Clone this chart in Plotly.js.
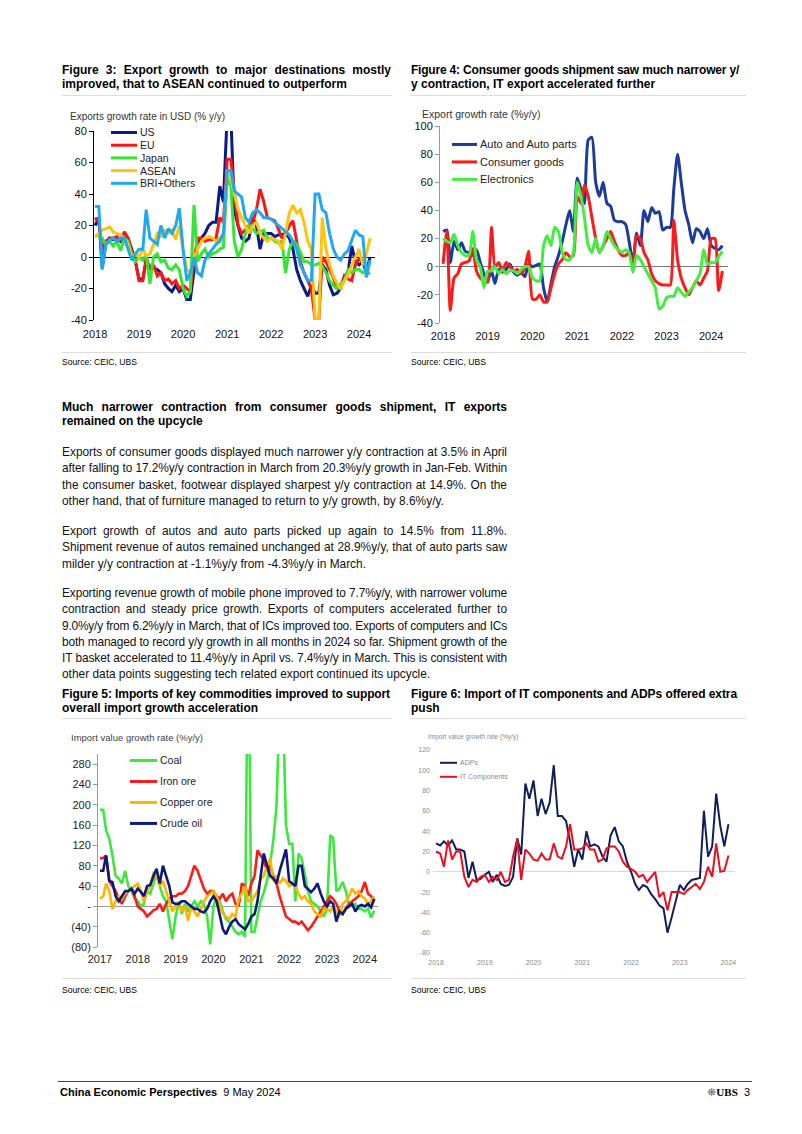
<!DOCTYPE html>
<html><head><meta charset="utf-8">
<script src="https://cdn.plot.ly/plotly-3.0.1.min.js"></script>
<style>
html,body{margin:0;padding:0;background:#fff}
body{width:802px;height:1134px;position:relative;overflow:hidden;font-family:'Liberation Sans',Arial,sans-serif;color:#000}
.a{position:absolute}
.ttl{font-weight:bold;font-size:12px;line-height:14px}
.bd{font-size:11.9px;line-height:16.3px;color:#111}
.jl{white-space:nowrap;text-align:justify;text-align-last:justify}
.ll{white-space:nowrap}
.src{font-size:8.6px;line-height:12px}
.sep{height:0;border-top:1px solid #dcdcdc}
.plot{position:absolute}
</style></head><body>

<div class="a ttl" style="left:62px;top:63px;width:329px"><div class="jl">Figure 3: Export growth to major destinations mostly</div><div class="ll">improved, that to ASEAN continued to outperform</div></div>
<div class="a ttl" style="left:411px;top:63px;width:328px"><div class="jl">Figure 4: Consumer goods shipment saw much narrower y/</div><div class="ll">y contraction, IT export accelerated further</div></div>
<div class="a sep" style="left:62px;top:95px;width:330px"></div>
<div class="a sep" style="left:411px;top:95px;width:335px"></div>

<div id="c1" class="plot"></div>
<div id="c2" class="plot"></div>

<div class="a sep" style="left:62px;top:352px;width:330px"></div>
<div class="a sep" style="left:411px;top:352px;width:335px"></div>
<div class="a src" style="left:62px;top:356px">Source: CEIC, UBS</div>
<div class="a src" style="left:411px;top:356px">Source: CEIC, UBS</div>

<div class="a ttl" style="left:62px;top:400px;width:445px"><div class="jl">Much narrower contraction from consumer goods shipment, IT exports</div><div class="ll">remained on the upcycle</div></div>

<div class="a bd" style="left:62px;top:444px;width:445px">
<div class="jl">Exports of consumer goods displayed much narrower y/y contraction at 3.5% in April</div>
<div class="jl">after falling to 17.2%y/y contraction in March from 20.3%y/y growth in Jan-Feb. Within</div>
<div class="jl">the consumer basket, footwear displayed sharpest y/y contraction at 14.9%. On the</div>
<div class="ll">other hand, that of furniture managed to return to y/y growth, by 8.6%y/y.</div>
</div>
<div class="a bd" style="left:62px;top:523px;width:445px">
<div class="jl">Export growth of autos and auto parts picked up again to 14.5% from 11.8%.</div>
<div class="jl">Shipment revenue of autos remained unchanged at 28.9%y/y, that of auto parts saw</div>
<div class="ll">milder y/y contraction at -1.1%y/y from -4.3%y/y in March.</div>
</div>
<div class="a bd" style="left:62px;top:585px;width:445px">
<div class="jl">Exporting revenue growth of mobile phone improved to 7.7%y/y, with narrower volume</div>
<div class="jl">contraction and steady price growth. Exports of computers accelerated further to</div>
<div class="jl">9.0%y/y from 6.2%y/y in March, that of ICs improved too. Exports of computers and ICs</div>
<div class="jl">both managed to record y/y growth in all months in 2024 so far. Shipment growth of the</div>
<div class="jl">IT basket accelerated to 11.4%y/y in April vs. 7.4%y/y in March. This is consistent with</div>
<div class="ll">other data points suggesting tech related export continued its upcycle.</div>
</div>

<div class="a ttl" style="left:62px;top:687px;width:328px"><div class="jl">Figure 5: Imports of key commodities improved to support</div><div class="ll">overall import growth acceleration</div></div>
<div class="a ttl" style="left:411px;top:687px;width:326px"><div class="jl">Figure 6: Import of IT components and ADPs offered extra</div><div class="ll">push</div></div>
<div class="a sep" style="left:62px;top:718px;width:330px"></div>
<div class="a sep" style="left:411px;top:718px;width:335px"></div>

<div id="c3" class="plot"></div>
<div id="c4" class="plot"></div>

<div class="a sep" style="left:62px;top:978px;width:330px"></div>
<div class="a sep" style="left:411px;top:978px;width:335px"></div>
<div class="a src" style="left:62px;top:984px">Source: CEIC, UBS</div>
<div class="a src" style="left:411px;top:984px">Source: CEIC, UBS</div>

<div class="a" style="left:58px;top:1081px;width:694px;height:0;border-top:1px solid #444"></div>
<div class="a" style="left:60px;top:1085px;font-family:'Liberation Sans Narrow','Liberation Sans',sans-serif;font-size:11px;line-height:14px;white-space:nowrap"><b>China Economic Perspectives</b>&nbsp;&nbsp;9 May 2024</div>
<div class="a" style="right:52px;top:1085px;font-size:11px;line-height:14px;white-space:nowrap"><span style="color:#777">&#10059;</span><span style="font-family:'Liberation Serif',serif;font-weight:bold">UBS</span>&nbsp;&nbsp;3</div>

<script>
// ---------- DATA ----------
// Figure 3: export growth by destination, % y/y, monthly Jan-2018 .. Apr-2024
const fig3Names = ['US','EU','Japan','ASEAN','BRI+Others'];
const fig3US = [20,25,-7,9,12,11,12,10,13,12,5,-3, -14,-14,-3,-6,-7,-8,-10,-17,-20,-22,-18,-22, -20,-27,-27,-8,8,12,15,20,22,22,45,35, 90,90,30,20,12,10,12,25,20,5,15,15, 15,13,14,14,15,12,5,-8,-15,-20,-25,-18, -23,-23,-5,-8,-18,-24,-23,-20,-12,-10,7,-3, -5,-3,-10,0];
const fig3EU = [25,22,5,10,12,12,13,10,16,12,3,-2, -15,-15,0,-8,-5,-12,-10,-15,-14,-17,-15,-20, -18,-20,-22,-2,12,12,10,11,11,12,25,22, 62,62,40,20,15,17,20,22,30,43,35,25, 24,23,18,12,15,20,23,10,-3,-10,-15,-20, -40,-40,0,-3,-8,-13,-20,-20,-12,-14,-15,-5, -1,-3,-8,-3];
const fig3Japan = [13,14,12,8,10,7,10,4,12,10,2,-3, 0,-2,2,-17,0,2,-3,-2,-7,-8,-5,-8, -20,-25,-22,33,-3,2,5,0,2,3,5,6, 50,45,10,0,5,15,20,18,15,16,17,12, 12,10,9,10,-10,5,10,8,3,-3,-3,-5, -5,-4,-6,-10,-15,-18,-20,-17,-15,-8,-10,-8, -8,-10,-9,-11];
const fig3ASEAN = [13,15,17,18,19,16,15,14,12,8,0,2, 0,5,1,2,8,15,13,17,15,17,11,20, 5,-8,-10,0,5,10,12,13,12,10,12,15, 55,50,40,30,25,20,15,20,22,15,12,10, 12,11,10,5,15,28,33,28,30,22,10,5, -40,-40,25,5,-5,-12,-17,-20,-15,-12,-5,0, 5,-5,2,12];
const fig3BRI = [32,32,-8,8,11,12,10,12,12,5,-2,2, 5,5,30,12,10,8,20,12,18,15,20,31, 5,-15,-10,0,-10,-12,-2,2,5,8,10,15, 55,55,42,40,38,25,22,28,30,28,25,25, 24,22,20,18,16,14,10,5,-5,-10,-15,-15, 40,40,30,28,15,5,0,-2,2,4,10,17, 14,13,-13,-2];
const fig3TickVals = [80,60,40,20,0,-20,-40];
const fig3TickText = ['80','60','40','20','0','-20','-40'];

// Figure 4: export growth by product, % y/y, Jan-2018 .. Apr-2024
const fig4Names = ['Auto and Auto parts','Consumer goods','Electronics'];
const fig4Auto = [25,26,3,18,12,17,11,10,8,12,3,-5, -10,-3,-12,-2,-4,-2,2,-4,-6,-4,-7,2, 0,1,2,-15,-25,-12,0,8,18,30,40,25, 63,55,45,90,92,60,50,60,45,43,33,32, 32,30,18,3,24,15,40,32,42,38,39,26, 28,28,55,80,60,40,30,17,27,25,20,27, 15,13,12,15];
const fig4Consumer = [2,25,-31,-8,-5,2,3,4,13,-3,-8,-10, -11,28,0,3,-3,3,0,-3,-2,-5,0,11, -23,-23,-20,-25,-25,-15,-5,2,5,10,7,8, 50,45,58,50,35,20,10,15,20,25,18,12, 8,8,10,0,22,20,10,5,-5,-10,-12,-13, -13,-13,33,5,-8,-15,-20,-15,-10,-13,-8,-3, 20,20,-17,-3];
const fig4Electronics = [20,18,17,23,15,10,8,8,25,5,0,-15, -3,-3,0,-5,-2,-5,-3,-3,-5,-2,0,0, -8,-10,-10,15,22,15,28,25,10,5,5,10, 60,50,35,15,10,20,10,15,25,20,15,12, 10,12,10,-4,8,5,0,-5,-10,-15,-30,-28, -22,-21,-21,-15,-18,-21,-18,-15,-10,-5,12,2, 3,3,7,11];
const fig4TickVals = [100,80,60,40,20,0,-20,-40];
const fig4TickText = ['100','80','60','40','20','0','-20','-40'];

// Figure 5: import value growth, % y/y, Jan-2017 .. Apr-2024
const fig5Names = ['Coal','Iron ore','Copper ore','Crude oil'];
const fig5Coal = [190,190,150,133,100,60,55,45,70,40,30,15, 10,0,5,30,25,45,65,40,20,10,-30,-65, -20,10,-15,5,-10,0,10,0,10,5,-20,-75, 0,20,10,-10,-25,-30,-40,-50,-55,-50,-60,600, -50,-50,-20,10,28,50,84,130,200,400,400,160, 123,123,10,104,95,60,30,10,5,0,-10,-20, -5,140,135,30,35,48,30,5,0,5,-5,-5, -10,-5,-22,-8];
const fig5Iron = [95,95,100,50,40,30,15,5,20,30,35,20, 0,-5,-10,-20,-15,-8,-5,5,-10,5,15,20, 20,25,25,30,40,60,80,70,50,35,25,30, 30,20,15,25,10,20,25,5,0,45,40,20, 45,60,110,100,90,70,80,60,45,20,0,-20, -25,-30,-30,-35,-30,-38,-47,-40,-30,-20,-10,0, 10,20,15,5,-10,-15,-5,5,10,15,20,30, 48,25,20,10];
const fig5Copper = [15,20,45,30,-5,10,20,15,25,30,35,40, 45,30,10,30,40,65,60,40,50,30,10,-10, 0,5,-10,0,-28,0,-10,-20,-5,10,20,25, 30,20,5,-15,-20,-25,-15,-20,15,25,40,10, 10,20,30,55,60,80,94,50,60,45,55,50, 40,45,40,25,15,20,10,5,-10,-15,-20,-5, -5,-10,0,-10,-20,5,10,20,35,25,30,20, 15,5,10,20];
const fig5Crude = [70,70,100,50,48,20,10,20,30,30,35,25, 35,28,20,40,42,60,74,45,80,60,40,8, 5,5,10,10,5,0,-5,-5,-10,-12,-5,10, 20,10,-20,-45,-55,-40,-30,-25,-35,-40,-45,-35, -20,-15,10,60,104,80,60,55,45,70,90,112, 50,45,40,80,80,40,35,28,35,45,25,10, 0,10,5,-30,-10,-15,-5,0,5,-10,0,3, 0,5,-2,15];
const fig5TickVals = [280,240,200,160,120,80,40,0,-40,-80];
const fig5TickText = ['280','240','200','160','120','80','40','-','(40)','(80)'];

// Figure 6: import value growth, % y/y, Jan-2018 .. Jan-2024
const fig6Names = ['ADPs','IT Components'];
const fig6ADP = [28,26,30,26,31,22,22,20,-6,10,-8,-7, -3,0,-10,-3,-12,-14,-13,-5,33,17,87,72, 90,55,72,57,68,105,55,55,50,30,5,22, 12,40,25,27,25,15,10,36,44,30,25,10, 0,-12,-18,-13,-15,-22,-27,-33,-36,-60,-45,-30, -13,-18,-12,-8,-7,-6,60,15,25,77,45,25, 47];
const fig6IT = [20,18,5,31,12,20,20,-5,-15,-8,-10,-5, -3,-10,-5,-8,0,-10,-8,15,32,-8,22,18, 12,11,18,12,12,28,15,13,25,47,22,22, 23,28,22,22,10,12,23,25,25,20,10,5, 3,0,-5,-3,-10,-5,0,-25,-20,-38,-20,-20, -20,-22,-18,-15,-12,-17,-10,5,-5,28,0,1, 16];
const fig6TickVals = [120,100,80,60,40,20,0,-20,-40,-60,-80];
const fig6TickText = ['120','100','80','60','40','20','0','-20','-40','-60','-80'];

function months(y0, m0, n){
  const a=[];
  for(let i=0;i<n;i++){const t=m0-1+i; a.push((y0+Math.floor(t/12))+'-'+String(t%12+1).padStart(2,'0')+'-01');}
  return a;
}

const FONT = "'Liberation Sans', Arial, sans-serif";

function build(id, box, area, cfg){
  const W=area.r-area.l, H=area.b-area.t;
  const px=x=>(x-area.l)/W, py=y=>(area.b-y)/H;
  const el=document.getElementById(id);
  Object.assign(el.style,{left:box.x+'px',top:box.y+'px',width:box.w+'px',height:box.h+'px'});
  const traces=cfg.series.map((s,i)=>({type:'scatter',mode:'lines',x:cfg.x,y:s,name:cfg.names[i],
     line:{color:cfg.colors[i],width:cfg.width,shape:cfg.shape||'linear',smoothing:cfg.smoothing||1},hoverinfo:'skip'}));
  const shapes=[], ann=[];
  cfg.names.forEach((n,k)=>{
    const y=cfg.leg.y0+cfg.leg.dy*k;
    shapes.push({type:'line',xref:'paper',yref:'paper',x0:px(cfg.leg.x0),x1:px(cfg.leg.x1),y0:py(y),y1:py(y),line:{color:cfg.colors[k],width:cfg.leg.lw}});
    ann.push({xref:'paper',yref:'paper',x:px(cfg.leg.x1+1),y:py(y),xanchor:'left',yanchor:'middle',text:n,showarrow:false,font:cfg.leg.font});
  });
  ann.push({xref:'paper',yref:'paper',x:px(cfg.yt.x),y:py(cfg.yt.y),xanchor:'left',yanchor:'middle',text:cfg.yt.text,showarrow:false,font:cfg.yt.font});
  const layout={width:box.w,height:box.h,
    margin:{l:area.l-box.x,r:box.x+box.w-area.r,t:area.t-box.y,b:box.y+box.h-area.b,pad:0},
    paper_bgcolor:'rgba(0,0,0,0)',plot_bgcolor:'rgba(0,0,0,0)',showlegend:false,font:{family:FONT},
    xaxis:Object.assign({type:'date',range:cfg.xr,tick0:cfg.tick0,dtick:'M12',tickformat:'%Y',showgrid:false,zeroline:false,showline:false,ticks:'',automargin:false},cfg.xa),
    yaxis:Object.assign({range:cfg.yr,showgrid:false,automargin:false,tickmode:'array'},cfg.ya),
    shapes:shapes,annotations:ann};
  Plotly.newPlot(el,traces,layout,{staticPlot:true,displayModeBar:false});
}

// Figure 3
build('c1',{x:55,y:100,w:340,h:250},{l:94,t:131,r:375,b:320},{
  x:months(2018,1,fig3US.length),
  series:[fig3US,fig3EU,fig3Japan,fig3ASEAN,fig3BRI], names:fig3Names,
  colors:['#0b1a8a','#ff1414','#33e633','#ffc30f','#1fa9ee'], width:3,
  xr:['2017-12-23','2024-05-12'], tick0:'2018-01-01', yr:[-40,80],
  xa:{tickfont:{size:11,color:'#111'},ticklabelstandoff:6},
  ya:{tickvals:fig3TickVals,ticktext:fig3TickText,showline:true,linecolor:'#000',linewidth:1,ticks:'outside',ticklen:4,tickcolor:'#000',
      zeroline:true,zerolinecolor:'#000',zerolinewidth:1,tickfont:{size:11,color:'#111'}},
  leg:{x0:111,x1:137,y0:132.5,dy:12.7,lw:3,font:{size:10.5,color:'#222',family:FONT}},
  yt:{x:68,y:117,text:'Exports growth rate in USD (% y/y)',font:{size:10,color:'#333',family:FONT}}
});

// Figure 4
build('c2',{x:400,y:100,w:350,h:250},{l:440,t:125.5,r:728,b:323},{
  x:months(2018,1,fig4Auto.length),
  series:[fig4Auto,fig4Consumer,fig4Electronics], names:fig4Names,
  colors:['#1c3c9c','#ff1a1a','#40ee40'], width:3, shape:'spline', smoothing:0.6,
  xr:['2017-12-07','2024-05-17'], tick0:'2018-01-01', yr:[-40,100],
  xa:{tickfont:{size:11,color:'#111'},ticklabelstandoff:5},
  ya:{tickvals:fig4TickVals,ticktext:fig4TickText,showline:true,linecolor:'#999',linewidth:1,ticks:'outside',ticklen:4,tickcolor:'#999',
      zeroline:true,zerolinecolor:'#777',zerolinewidth:1,tickfont:{size:11,color:'#111'}},
  leg:{x0:452,x1:477,y0:144,dy:17.5,lw:3,font:{size:11,color:'#222',family:FONT}},
  yt:{x:420,y:113,text:'Export growth rate (%y/y)',font:{size:10.5,color:'#333',family:FONT}}
});

// Figure 5
build('c3',{x:55,y:722,w:340,h:252},{l:98,t:753.5,r:378,b:946.7},{
  x:months(2017,1,fig5Coal.length),
  series:[fig5Coal,fig5Iron,fig5Copper,fig5Crude], names:fig5Names,
  colors:['#3de83d','#ff1a1a','#ffb400','#0c1a7c'], width:2.6,
  xr:['2016-12-13','2024-05-07'], tick0:'2017-01-01', yr:[-80,300],
  xa:{tickfont:{size:11,color:'#222'},ticklabelstandoff:4},
  ya:{tickvals:fig5TickVals,ticktext:fig5TickText,showline:true,linecolor:'#999',linewidth:1,ticks:'outside',ticklen:4,tickcolor:'#999',
      zeroline:true,zerolinecolor:'#999',zerolinewidth:1,tickfont:{size:11,color:'#222'}},
  leg:{x0:130,x1:157,y0:760,dy:21,lw:3,font:{size:10.5,color:'#222',family:FONT}},
  yt:{x:69,y:737,text:'Import value growth rate (%y/y)',font:{size:9.5,color:'#444',family:FONT}}
});

// Figure 6
build('c4',{x:400,y:722,w:350,h:252},{l:433,t:750.2,r:735,b:953.2},{
  x:months(2018,1,fig6ADP.length),
  series:[fig6ADP,fig6IT], names:fig6Names,
  colors:['#0e1f5b','#e8101e'], width:2,
  xr:['2017-12-09','2024-02-19'], tick0:'2018-01-01', yr:[-80,120],
  xa:{tickfont:{size:7,color:'#8a8a8a'},ticklabelstandoff:4},
  ya:{tickvals:fig6TickVals,ticktext:fig6TickText,showline:false,ticks:'',zeroline:true,zerolinecolor:'#d9d9d9',zerolinewidth:1,
      tickfont:{size:7,color:'#8a8a8a'},ticklabelstandoff:2},
  leg:{x0:440,x1:457,y0:763,dy:14,lw:2,font:{size:7,color:'#8a8a8a',family:FONT}},
  yt:{x:426,y:737,text:'Import value growth rate (%y/y)',font:{size:6.5,color:'#8a8a8a',family:FONT}}
});

// fit justified lines into their box
function fit(){
  document.querySelectorAll('.jl').forEach(el=>{
    const w=el.clientWidth;
    const s=document.createElement('span'); s.textContent=el.textContent; s.style.whiteSpace='nowrap';
    el.textContent=''; el.appendChild(s);
    const nw=s.getBoundingClientRect().width;
    if(nw>w){ el.style.letterSpacing=((w-nw)/s.textContent.length-0.02)+'px'; }
  });
}
if(document.fonts && document.fonts.ready){document.fonts.ready.then(fit);} else fit();
</script>
</body></html>
